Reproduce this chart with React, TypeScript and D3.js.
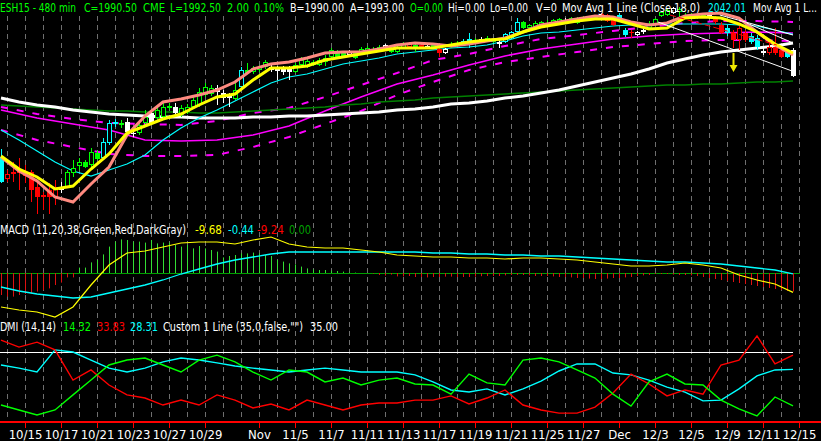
import React, { useEffect, useRef } from 'react';
import * as d3 from 'd3';

// ESH15 480 min bars, 10/14 .. 12/15
const opens = [1888.75,1861.25,1870,1872.5,1870,1870,1851.25,1841.25,1847.5,1838.75,
  1847.5,1851.25,1868.75,1877.5,1882.5,1878.75,1893.75,1887.5,1906.25,1930,
  1930,1932.5,1918.75,1918.75,1931.25,1943.75,1937.5,1938.75,1951.25,1951.25,
  1941.25,1945,1951.25,1953.75,1966.25,1967.5,1975,1968.75,1967.5,1961.25,
  1976.25,1997.5,1995,1997.5,2001.25,2001.25,2000,1998.75,2000,1995,
  2003.75,2001.25,2007.5,2003.75,2007.5,2013.75,2020,2018.75,2016.25,2018.75,
  2018.75,2020,2021.25,2022.5,2023.75,2025,2020,2025,2026.25,2028.75,
  2027.5,2027.5,2026.25,2023.75,2018.75,2026.25,2027.5,2028.75,2035,2033.75,
  2035,2033.75,2032.5,2032.5,2032.5,2037.5,2045,2057.5,2050,2051.25,
  2053.75,2055,2056.25,2057.5,2058.75,2062.5,2056.25,2061.25,2062.5,2062.5,
  2063.75,2066.25,2060,2066.25,2047.5,2045,2041.25,2045,2050,2055,
  2065,2066.25,2068.75,2070,2065,2065,2062.5,2065,2062.5,2063.75,
  2053.75,2050,2043.75,2035,2043.75,2040,2037.5,2020,2018.75,2026.25,
  2022.5,2020,2022.5];
const highs = [1898.75,1872.5,1882.5,1887.5,1878.75,1872.5,1860,1845,1856.25,1860,
  1857.5,1872.5,1885,1887.5,1885,1900,1897.5,1912.5,1935,1936.25,
  1935,1937.5,1925,1931.25,1947.5,1947.5,1953.75,1956.25,1956.25,1956.25,
  1953.75,1955,1963.75,1975,1981.25,1978.75,1978.75,1972.5,1968.75,1985,
  2001.25,2006.25,2002.5,2003.75,2010,2003.75,2002.5,2002.5,2002.5,2006.25,
  2013.75,2011.25,2010,2012.5,2016.25,2025,2022.5,2021.25,2022.5,2021.25,
  2026.25,2027.5,2026.25,2028.75,2030,2027.5,2028.75,2032.5,2032.5,2032.5,
  2030,2030,2030,2026.25,2025,2032.5,2033.75,2036.25,2043.75,2037.5,
  2038.75,2040,2036.25,2035,2043.75,2046.25,2062.5,2058.75,2055,2058.75,
  2058.75,2060,2061.25,2062.5,2062.5,2063.75,2063.75,2065,2065,2066.25,
  2068.75,2067.5,2062.5,2068.75,2050,2047.5,2046.25,2052.5,2058.75,2062.5,
  2071.25,2073.75,2076.25,2076.25,2068.75,2068.75,2067.5,2068.75,2067.5,2065,
  2057.5,2053.75,2047.5,2052.5,2047.5,2043.75,2041.25,2027.5,2035,2050,
  2025,2022.5,2025];
const lows = [1856.25,1857.5,1857.5,1847.5,1856.25,1832.5,1817.5,1822.5,1817.5,1828.75,
  1843.75,1850,1863.75,1872.5,1875,1876.25,1885,1885,1903.75,1926.25,
  1925,1918.75,1913.75,1916.25,1928.75,1928.75,1935,1937.5,1947.5,1937.5,
  1938.75,1942.5,1948.75,1951.25,1963.75,1965,1953.75,1956.25,1951.25,1960,
  1975,1993.75,1992.5,1995,1998.75,1995,1985,1991.25,1985,1993.75,
  2001.25,2000,2002.5,2002.5,2002.5,2012.5,2012.5,2012.5,2015,2011.25,
  2017.5,2018.75,2020,2021.25,2022.5,2018.75,2018.75,2023.75,2025,2020,
  2025,2025,2023.75,2013.75,2017.5,2025,2026.25,2027.5,2025,2031.25,
  2031.25,2032.5,2031.25,2025,2031.25,2036.25,2043.75,2048.75,2048.75,2050,
  2052.5,2052.5,2055,2056.25,2056.25,2057.5,2055,2058.75,2060,2061.25,
  2062.5,2057.5,2052.5,2057.5,2038.75,2037.5,2040,2042.5,2047.5,2053.75,
  2063.75,2065,2067.5,2063.75,2062.5,2062.5,2061.25,2063.75,2061.25,2055,
  2042.5,2040,2025,2022.5,2032.5,2030,2022.5,2016.25,2016.25,2016.25,
  2012.5,2012.5,1988.75];
const closes = [1857.5,1867.5,1867.5,1868.75,1865,1847.5,1838.75,1838.75,1838.75,1851.25,
  1850,1870,1875,1882.5,1876.25,1895,1886.25,1907.5,1931.25,1932.5,
  1931.25,1920,1917.5,1928.75,1938.75,1931.25,1947.5,1951.25,1952.5,1943.75,
  1950,1951.25,1960,1970,1976.25,1975,1970,1962.5,1962.5,1972.5,
  1997.5,1993.75,2000,2001.25,2007.5,1997.5,1996.25,1995,1995,2003.75,
  2010,2008.75,2003.75,2010,2012.5,2022.5,2013.75,2013.75,2020,2012.5,
  2023.75,2025,2023.75,2026.25,2028.75,2020,2026.25,2031.25,2030,2023.75,
  2028.75,2026.25,2028.75,2018.75,2023.75,2030,2031.25,2033.75,2036.25,2035,
  2036.25,2037.5,2035,2030,2042.5,2045,2057.5,2050,2053.75,2056.25,
  2057.5,2056.25,2060,2061.25,2060,2058.75,2062.5,2063.75,2063.75,2065,
  2067.5,2058.75,2053.75,2060,2041.25,2043.75,2045,2047.5,2053.75,2061.25,
  2070,2072.5,2075,2073.75,2066.25,2066.25,2066.25,2067.5,2066.25,2057.5,
  2043.75,2043.75,2035,2050,2035,2032.5,2026.25,2021.25,2026.25,2018.75,
  2013.75,2013.75,1990.5];
// paint bar state per bar: g green, r red, w white, c cyan
const paint = "crrrrrrrrrwggggggcccgwwggwgggwggggggwwwgcggggwwwwgggggggggwgggggwgggrgrwgrwggccgwggwcccgggggggwgggggrrrccrwwggggwgggggwrrcrrrccwrrrc";

// moving averages, one value every 3 bars
const fastAvg = [1890,1873.75,1863.75,1848.75,1852.5,1873.75,1892.5,1918.75,1927.5,1936.25,1942.5,1953.75,1963.75,1967.5,1985,2000,2000,2002.5,2010,2013.75,2017.5,2021.25,2025,2025,2025,2028.75,2032.5,2035,2036.25,2045,2051.25,2055,2058.75,2061.25,2061.25,2055,2048.75,2050,2062.5,2063.75,2062.5,2055,2045,2030,2018.75];
const pinkAvg = [1888.75,1871.25,1858.75,1838.75,1832.5,1855,1876.25,1916.25,1940,1957.5,1961.25,1966.25,1972.5,1982.5,1998.75,2005,2007.5,2012.5,2018.75,2020,2020,2023.75,2028.75,2031.25,2030,2027.5,2030,2033.75,2037.5,2045,2053.75,2057.5,2061.25,2065,2063.75,2057.5,2053.75,2056.25,2065,2067.5,2068.75,2062.5,2045,2028.75,2016.25];
const avg18 = [1922.5,1910,1896.25,1882.5,1871.25,1865,1872.5,1880,1891.25,1910,1925,1937.5,1947.5,1958.75,1970,1981.25,1988.75,1992.5,1998.75,2005,2008.75,2012.5,2017.5,2020,2022.5,2025,2026.25,2028.75,2033.75,2040,2043.75,2045,2047.5,2050,2052.5,2053.75,2055,2055,2055,2055,2055,2053.75,2052.5,2047.5,2042.01];
const slowAvg = [1962.5,1957.5,1953.75,1951.25,1947.5,1945,1942.5,1941.25,1940,1938.75,1938.75,1937.5,1937.5,1937.5,1938.75,1938.75,1940,1940,1941.25,1942.5,1943.75,1945,1947.5,1948.75,1951.25,1955,1956.25,1958.75,1962.5,1965,1968.75,1972.5,1977.5,1982.5,1987.5,1992.5,1998.75,2006.25,2011.25,2016.25,2020,2022.5,2025,2027.5,2031.25];
const longAvg = [1953.75,1952.5,1951.25,1950,1948.75,1947.5,1946.25,1946.25,1945,1945,1945,1943.75,1943.75,1945,1946.25,1947.5,1948.75,1950,1951.25,1953.75,1955,1957.5,1958.75,1960,1962.5,1963.75,1965,1966.25,1967.5,1968.75,1970,1971.25,1972.5,1973.75,1975,1976.25,1977.5,1978.75,1978.75,1980,1980,1981.25,1982.5,1982.5,1983.75];

// magenta bands, one value every 6 bars
const bandMid = [1947.5,1937.5,1930,1922.5,1910,1908.75,1910,1916.25,1927.5,1946.25,1963.75,1980,1991.25,2003.75,2015,2023.75,2030,2036.25,2040,2042.5,2043.75,2045,2043.75];
const bandUp = [1951.25,1942.5,1936.25,1931.25,1930,1928.75,1933.75,1943.75,1950,1963.75,1978.75,1993.75,2010,2017.5,2027.5,2036.25,2041.25,2046.25,2051.25,2056.25,2058.75,2058.75,2057.5];
const bandDn = [1922.5,1910,1901.25,1892.5,1890,1890,1891.25,1901.25,1913.75,1930,1946.25,1966.25,1982.5,1997.5,2007.5,2013.75,2020,2026.25,2030,2033.75,2035,2035,2033.75];

// drawn trend lines [bar1, price1, bar2, price2]
const whiteTrends = [[109.5, 2057.5, 132.3, 1995], [119.8, 2066.25, 132, 2041.25], [124.3, 2056.25, 132, 2031.25]];
const redTrend = [111.5, 2066.25, 129.3, 2028.75];
const arrowSignal = { bar: 122, from: 2018.75, to: 1995 };

// MACD (11,20,38), every 3 bars
const macdLine = [-17,-18.5,-19.5,-22,-17,-6,4,10,11,13,15,15.5,15.5,14.5,16.5,18,14.5,13,12.5,12.5,11.5,10.5,9,8.5,8,8,7.5,7.5,7,7.5,7.5,7,6.5,5.5,4.5,3.5,3.5,4,5,4,2.5,-1,-3.5,-5.5,-9.68];
const macdAvg = [-7,-9,-10.5,-11.5,-12.5,-12,-10,-8,-6,-3.5,-0.5,2,4.5,6.5,8,9.5,10.5,10.5,10.5,10.5,10.5,10.5,10.5,10.5,10,10,9.5,9.5,9,9,8.5,8.5,8,7.5,7,6.5,6,5.5,5.5,5,4.5,3.5,2.5,1.5,-0.44];
const macdDiff = [-11,-11.8,-11.8,-11,-10.5,-10.2,-9.3,-8.5,-7.7,-6,-4.8,-2.2,-2.2,
  2.7,2.7,5.3,6.5,9.3,13.2,15.7,16.8,16.5,15.7,15.7,15.2,16.5,14.8,15.2,15.2,14,13.2,14,12.3,13.5,12.3,11.5,10.7,7.8,8.5,9,9.8,9.8,10.2,9.8,9,8.5,6.5,5.7,4.8,4.3,3.2,2.3,1.8,1.5,1.5,1.2,1,0.7,0.3,0.2,0,0,-0.3,-1,-1.3,-0.8,-1.7,-1.7,-1.5,
  -2,-2,-2.2,-2,-2,-1.8,-1.8,-2,-2,-2,-1.8,-1.6,-1.5,-1.5,-1.5,-1.2,-1,-1,
  -1,-1.2,-1.5,-1.5,-1.5,-1.7,-2,-2,-2.2,-2.5,-2.5,-2.8,-3,-3,-2.8,-2.5,-2.5,-2.2,
  -2,-1.5,-1.2,-1,-0.5,-0.5,-0.5,-0.8,-1,-1,-1.2,-1.5,-2,-2.5,-3,-3.5,-4,-4.5,
  -5,-5.5,-6,-6.5,-7,-7.5,-8,-8.5,-9,-9.24];

// DMI (14,14), every 3 bars
const diPlus = [14.6,12.7,10.8,12.7,18.5,24.2,30,31.9,32.7,30,27.3,31.9,33.8,31.2,27.3,24.2,28.1,27.3,23.5,25,22.3,24.2,25,22.7,22.3,18.8,26.5,23.1,22.3,31.9,32.7,31.2,28.1,25,18.8,14.2,23.5,26.5,22.7,22.3,16.5,13.1,10.4,17.7,14.32];
const diMinus = [39.6,36.9,38.8,35.8,24.2,28.1,22.3,18.5,17.3,14.6,16.5,14.6,18.5,16.5,13.5,15,12.7,16.5,14.6,12.7,14.6,15.4,15.4,16.5,16.5,18.1,15,17.3,20.4,14.6,12.7,11.5,11.5,13.8,19.2,26.5,22.7,18.1,20.4,18.8,30,31.9,41.2,30.4,33.83];
const adx = [30,28.8,27.3,35.8,35,31.9,28.8,27.3,28.8,31.2,32.7,31.9,30.8,29.6,28.8,28.1,27.3,28.1,28.8,28.1,27.3,27.3,27.3,26.2,23.5,20.4,19.6,20.8,18.5,20.8,23.8,27.7,30.4,30.4,26.9,26.2,24.2,21.5,19.6,16.2,16.5,20.8,25.8,28.1,28.31];
const dmiLevel = 35;

const tickBars = [4,10,16,22,28,34,43,49,55,61,67,73,79,85,91,97,103,109,115,121,127,133];
const tickLabels = ["10/15","10/17","10/21","10/23","10/27","10/29","Nov","11/5","11/7","11/11","11/13","11/17","11/19","11/21","11/25","11/27","Dec","12/3","12/5","12/9","12/11","12/15"];

const GREEN = "#00ff00", RED = "#ff0000", WHITE = "#ffffff", CYAN = "#00ffff", YELLOW = "#ffff00";

const App: React.FC = () => {
  const svgRef = useRef<SVGSVGElement>(null);

  useEffect(() => {
    if (!svgRef.current) return;
    const W = 821, H = 441;
    const font = "'Liberation Sans Narrow', 'DejaVu Sans Condensed', 'Liberation Sans', Arial, sans-serif";

    const svg = d3.select(svgRef.current);
    svg.selectAll("*").remove();

    svg.append("rect").attr("width", W).attr("height", H).attr("fill", "#000");

    const x = d3.scaleLinear().domain([0, 132]).range([1, 793]);
    const yP = d3.scaleLinear().domain([1816.25, 2085]).range([215, 0]);
    const yM = d3.scaleLinear().domain([-22, 18]).range([317, 237]);
    const yD = d3.scaleLinear().domain([0, 35]).range([443, 352]);
    const px = (b: number) => Math.round(x(b)) + 0.5;

    const defs = svg.append("defs");
    defs.append("clipPath").attr("id", "clipPrice")
      .append("rect").attr("x", 0).attr("y", 0).attr("width", W).attr("height", 218);
    defs.append("clipPath").attr("id", "clipDmi")
      .append("rect").attr("x", 0).attr("y", 300).attr("width", W).attr("height", 121);

    // day grid
    svg.append("g").selectAll("line").data(d3.range(1, 134, 3)).join("line")
      .attr("x1", d => px(d)).attr("x2", d => px(d))
      .attr("y1", 16).attr("y2", 421)
      .attr("stroke", "#6f6f6f").attr("stroke-width", 1)
      .attr("stroke-dasharray", "5,4");

    // ---- price panel
    const price = svg.append("g").attr("clip-path", "url(#clipPrice)");
    const bars3 = d3.range(0, 133, 3);
    const bars6 = d3.range(0, 133, 6);
    const line3 = d3.line<number>().x((_, k) => x(bars3[k])).y(d => yP(d));
    const line6 = d3.line<number>().x((_, k) => x(bars6[k])).y(d => yP(d));

    price.append("path").datum(bandUp).attr("d", line6).attr("fill", "none")
      .attr("stroke", "#ff00ff").attr("stroke-width", 2).attr("stroke-dasharray", "7,9");
    price.append("path").datum(bandDn).attr("d", line6).attr("fill", "none")
      .attr("stroke", "#ff00ff").attr("stroke-width", 2).attr("stroke-dasharray", "7,9");
    price.append("path").datum(bandMid).attr("d", line6).attr("fill", "none")
      .attr("stroke", "#ff00ff").attr("stroke-width", 1.6);
    price.append("path").datum(longAvg).attr("d", line3).attr("fill", "none")
      .attr("stroke", "#008000").attr("stroke-width", 1.5);
    price.append("path").datum(slowAvg).attr("d", line3).attr("fill", "none")
      .attr("stroke", WHITE).attr("stroke-width", 3);
    price.append("path").datum(avg18).attr("d", line3).attr("fill", "none")
      .attr("stroke", CYAN).attr("stroke-width", 1.2);

    const paintColor: Record<string, string> = { g: GREEN, r: RED, w: WHITE, c: CYAN };
    const candles = d3.range(opens.length).map(i => ({
      i, o: opens[i], h: highs[i], l: lows[i], c: closes[i], col: paintColor[paint[i]] || WHITE
    }));
    const cg = price.append("g");
    cg.selectAll("line").data(candles).join("line")
      .attr("x1", d => px(d.i)).attr("x2", d => px(d.i))
      .attr("y1", d => yP(d.h)).attr("y2", d => yP(d.l))
      .attr("stroke", d => d.col).attr("stroke-width", 1);
    cg.selectAll("rect").data(candles).join("rect")
      .attr("x", d => d.c > d.o ? Math.round(x(d.i)) - 1.5 : Math.round(x(d.i)) - 2)
      .attr("y", d => d.c > d.o ? Math.round(yP(d.c)) + 0.5 : Math.round(yP(d.o)))
      .attr("width", d => d.c > d.o ? 4 : 5)
      .attr("height", d => Math.max(1, Math.round(Math.abs(yP(d.o) - yP(d.c))) - (d.c > d.o ? 1 : 0)))
      .attr("fill", d => d.c > d.o ? "#000" : d.col)
      .attr("stroke", d => d.c > d.o ? d.col : "none")
      .attr("stroke-width", 1);

    price.append("path").datum(pinkAvg).attr("d", line3).attr("fill", "none")
      .attr("stroke", "#ff8a80").attr("stroke-width", 3);
    price.append("path").datum(fastAvg).attr("d", line3).attr("fill", "none")
      .attr("stroke", YELLOW).attr("stroke-width", 3);

    price.append("g").selectAll("line").data(whiteTrends).join("line")
      .attr("x1", d => x(d[0])).attr("y1", d => yP(d[1]))
      .attr("x2", d => x(d[2])).attr("y2", d => yP(d[3]))
      .attr("stroke", WHITE).attr("stroke-width", 1);
    price.append("line")
      .attr("x1", x(redTrend[0])).attr("y1", yP(redTrend[1]))
      .attr("x2", x(redTrend[2])).attr("y2", yP(redTrend[3]))
      .attr("stroke", RED).attr("stroke-width", 1).attr("stroke-dasharray", "6,3");

    const ax = px(arrowSignal.bar), a0 = yP(arrowSignal.from), a1 = yP(arrowSignal.to);
    price.append("path")
      .attr("d", `M${ax - 1},${a0} L${ax + 1},${a0} L${ax + 1},${a1 - 7} L${ax + 4},${a1 - 7} L${ax},${a1} L${ax - 4},${a1 - 7} L${ax - 1},${a1 - 7} Z`)
      .attr("fill", "#f0e800");

    // ---- MACD panel
    svg.append("line").attr("x1", 0).attr("x2", 800)
      .attr("y1", Math.round(yM(0)) + 0.5).attr("y2", Math.round(yM(0)) + 0.5)
      .attr("stroke", "#00a000").attr("stroke-width", 1);
    svg.append("g").selectAll("line").data(macdDiff).join("line")
      .attr("x1", (_, i) => px(i)).attr("x2", (_, i) => px(i))
      .attr("y1", yM(0)).attr("y2", d => yM(d))
      .attr("stroke", d => d >= 0 ? "#33dd33" : "#dd1111").attr("stroke-width", 1);
    const lineM = d3.line<number>().x((_, k) => x(bars3[k])).y(d => yM(d));
    svg.append("path").datum(macdAvg).attr("d", lineM).attr("fill", "none")
      .attr("stroke", CYAN).attr("stroke-width", 1.3);
    svg.append("path").datum(macdLine).attr("d", lineM).attr("fill", "none")
      .attr("stroke", YELLOW).attr("stroke-width", 1.2);

    // ---- DMI panel
    const dmi = svg.append("g").attr("clip-path", "url(#clipDmi)");
    dmi.append("line").attr("x1", 0).attr("x2", 793)
      .attr("y1", Math.round(yD(dmiLevel)) + 0.5).attr("y2", Math.round(yD(dmiLevel)) + 0.5)
      .attr("stroke", WHITE).attr("stroke-width", 1.2);
    const lineD = d3.line<number>().x((_, k) => x(bars3[k])).y(d => yD(d));
    dmi.append("path").datum(adx).attr("d", lineD).attr("fill", "none")
      .attr("stroke", CYAN).attr("stroke-width", 1.4);
    dmi.append("path").datum(diMinus).attr("d", lineD).attr("fill", "none")
      .attr("stroke", RED).attr("stroke-width", 1.4);
    dmi.append("path").datum(diPlus).attr("d", lineD).attr("fill", "none")
      .attr("stroke", GREEN).attr("stroke-width", 1.4);

    // ---- time axis
    svg.append("line").attr("x1", 0).attr("x2", W).attr("y1", 422).attr("y2", 422)
      .attr("stroke", RED).attr("stroke-width", 2);
    const ticks = svg.append("g");
    ticks.selectAll("line").data(tickBars).join("line")
      .attr("x1", d => px(d)).attr("x2", d => px(d))
      .attr("y1", 422).attr("y2", 428)
      .attr("stroke", RED).attr("stroke-width", 1);
    ticks.selectAll("text").data(tickBars).join("text")
      .attr("x", d => px(d)).attr("y", 439)
      .attr("text-anchor", "middle")
      .attr("font-family", font).attr("font-size", 13)
      .attr("fill", WHITE)
      .text((_, k) => tickLabels[k]);

    // ---- status texts, squeezed into the room the terminal gives them
    const label = (t: string, color: string, x0: number, y0: number, room: number) => {
      const el = svg.append("text").attr("x", x0).attr("y", y0)
        .attr("font-family", font).attr("font-size", 12.5)
        .attr("fill", color)
        .text(t);
      const node = el.node() as SVGTextElement;
      if (node.getComputedTextLength() > room) {
        el.attr("textLength", room).attr("lengthAdjust", "spacingAndGlyphs");
      }
    };
    label("ESH15 - 480 min", GREEN, 0, 12, 76);
    label("C=1990.50", GREEN, 84, 12, 53);
    label("CME", GREEN, 143, 12, 22);
    label("L=1992.50", GREEN, 170, 12, 51);
    label("2.00", GREEN, 227, 12, 22);
    label("0.10%", GREEN, 254, 12, 30);
    label("B=1990.00", WHITE, 290, 12, 54);
    label("A=1993.00", WHITE, 350, 12, 54);
    label("O=0.00", GREEN, 410, 12, 33);
    label("Hi=0.00", WHITE, 448, 12, 37);
    label("Lo=0.00", WHITE, 490, 12, 38);
    label("V=0", WHITE, 536, 12, 21);
    label("Mov Avg 1 Line (Close,18,0)", WHITE, 562, 12, 138);
    label("2042.01", CYAN, 708, 12, 38);
    label("Mov Avg 1 L...", WHITE, 753, 12, 64);

    label("MACD (11,20,38,Green,Red,DarkGray)", WHITE, 0, 234, 186);
    label("-9.68", YELLOW, 195, 234, 27);
    label("-0.44", CYAN, 228, 234, 26);
    label("-9.24", RED, 257, 234, 27);
    label("0.00", "#00a000", 289, 234, 22);

    label("DMI (14,14)", WHITE, 0, 331, 56);
    label("14.32", GREEN, 63, 331, 28);
    label("33.83", RED, 97, 331, 28);
    label("28.31", CYAN, 130, 331, 28);
    label("Custom 1 Line (35,0,false,\"\")", WHITE, 163, 331, 140);
    label("35.00", WHITE, 310, 331, 28);
  }, []);

  return (
    <div style={{ width: 821, height: 441, background: '#000' }}>
      <style>{`body{margin:0;background:#000}`}</style>
      <svg ref={svgRef} width={821} height={441} style={{ display: 'block' }} />
    </div>
  );
};

export default App;
